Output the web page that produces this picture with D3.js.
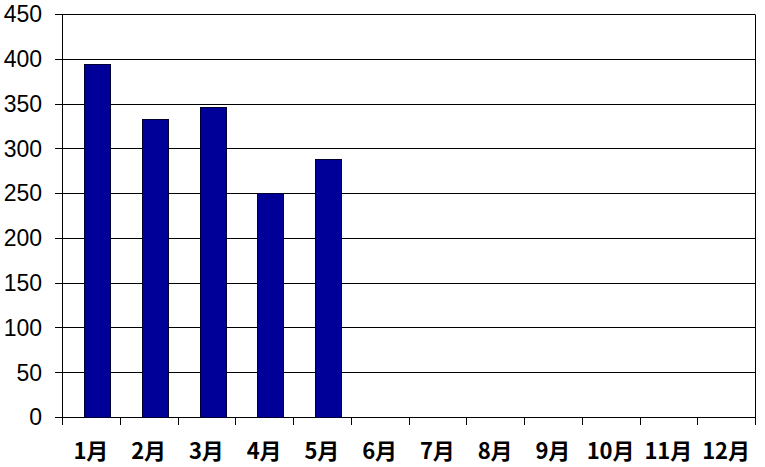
<!DOCTYPE html>
<html><head><meta charset="utf-8">
<script src="https://cdn.jsdelivr.net/npm/d3@7"></script>
<style>html,body{margin:0;padding:0;background:#fff;}</style>
</head><body>
<svg id="chart" width="765" height="467"></svg>
<script>
const categories = ["1月","2月","3月","4月","5月","6月","7月","8月","9月","10月","11月","12月"];
const values = [394, 333, 346, 250, 288, null, null, null, null, null, null, null];
const yTicks = [0, 50, 100, 150, 200, 250, 300, 350, 400, 450];

const svg = d3.select("#chart");
const L = 62, R = 755, T = 14, B = 417;
const x = d3.scaleBand().domain(categories).range([L, R]).paddingInner(0).paddingOuter(0);
const y = d3.scaleLinear().domain([0, 450]).range([B, T]);

// gridlines
svg.append("g").selectAll("line").data(yTicks).join("line")
  .attr("x1", L - 7).attr("x2", R)
  .attr("y1", d => Math.round(y(d)) + 0.5).attr("y2", d => Math.round(y(d)) + 0.5)
  .attr("stroke", "#000").attr("stroke-width", 1);

// right border
svg.append("line").attr("x1", R + 0.5).attr("x2", R + 0.5)
  .attr("y1", Math.round(y(450)) + 0.5).attr("y2", B + 0.5)
  .attr("stroke", "#000");

// bars
const bw = 26, off = 22;
svg.append("g").selectAll("rect").data(categories.map((c, i) => ({c, v: values[i]})).filter(d => d.v != null))
  .join("rect")
  .attr("x", d => Math.round(x(d.c) + off) + 0.5)
  .attr("y", d => Math.round(y(d.v)) + 0.5)
  .attr("width", bw)
  .attr("height", d => Math.round(y(0)) - Math.round(y(d.v)))
  .attr("fill", "#000099").attr("stroke", "#000030").attr("stroke-width", 1);

// y axis line
svg.append("line").attr("x1", L + 0.5).attr("x2", L + 0.5)
  .attr("y1", Math.round(y(450)) + 0.5).attr("y2", B + 0.5).attr("stroke", "#000");

// x axis ticks
const xt = categories.map(c => x(c)).concat([R]);
svg.append("g").selectAll("line").data(xt).join("line")
  .attr("x1", d => Math.round(d) + 0.5).attr("x2", d => Math.round(d) + 0.5)
  .attr("y1", B).attr("y2", B + 8).attr("stroke", "#000");

// y labels
svg.append("g").selectAll("text").data(yTicks).join("text")
  .attr("x", 42).attr("y", d => y(d))
  .attr("dy", "0.36em").attr("text-anchor", "end")
  .attr("font-family", "Liberation Sans, Arial, sans-serif")
  .attr("font-size", 23).attr("fill", "#000")
  .text(d => d);

// x labels
svg.append("g").selectAll("text").data(categories).join("text")
  .attr("x", d => x(d) + x.bandwidth() / 2).attr("y", 459)
  .attr("text-anchor", "middle")
  .attr("font-family", "Noto Sans CJK JP, sans-serif")
  .attr("font-weight", "bold")
  .attr("font-size", 22).attr("fill", "#000")
  .text(d => d);
</script>
</body></html>
